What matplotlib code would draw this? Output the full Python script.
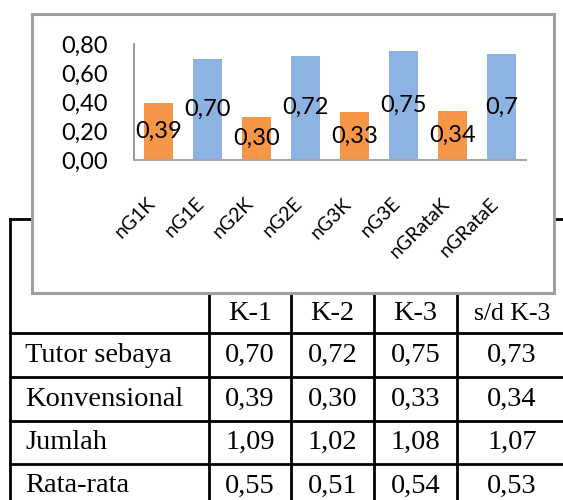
import matplotlib
matplotlib.use("Agg")
import matplotlib.pyplot as plt
from matplotlib.patches import Rectangle

# bar chart data
categories = ["nG1K", "nG1E", "nG2K", "nG2E", "nG3K", "nG3E", "nGRataK", "nGRataE"]
values = [0.39, 0.70, 0.30, 0.72, 0.33, 0.75, 0.34, 0.73]
bar_labels = ["0,39", "0,70", "0,30", "0,72", "0,33", "0,75", "0,34", "0,7"]
bar_colors = ["#f79646", "#8db3e2"] * 4
yticks = [0.0, 0.2, 0.4, 0.6, 0.8]

# table data
col_headers = ["K-1", "K-2", "K-3", "s/d K-3"]
row_names = ["Tutor sebaya", "Konvensional", "Jumlah", "Rata-rata"]
table_vals = [
    ["0,70", "0,72", "0,75", "0,73"],
    ["0,39", "0,30", "0,33", "0,34"],
    ["1,09", "1,02", "1,08", "1,07"],
    ["0,55", "0,51", "0,54", "0,53"],
]

W, H = 563, 500
fig = plt.figure(figsize=(W / 100, H / 100), dpi=100)

# background axes in pixel coordinates for the table
bg = fig.add_axes([0, 0, 1, 1])
bg.set_xlim(0, W)
bg.set_ylim(H, 0)
bg.axis("off")

col_x = [10, 209, 291, 374, 457, 600]
row_y = [219, 333, 377, 421, 464, 508]
col_cx = [250, 332.5, 415.5, 512]
lw = 2.0
for x in col_x:
    bg.plot([x, x], [row_y[0], row_y[-1]], color="black", lw=lw, zorder=1)
for y in row_y:
    bg.plot([col_x[0], col_x[-1]], [y, y], color="black", lw=lw, zorder=1)

serif = "Liberation Serif"
for j, h in enumerate(col_headers):
    fs = 18.5 if h.startswith("s/d") else 20.5
    bg.text(col_cx[j], 314, h, ha="center", va="center", fontsize=fs, family=serif, zorder=2)
for i, name in enumerate(row_names):
    cy = (row_y[i + 1] + row_y[i + 2]) / 2
    bg.text(25, cy, name, ha="left", va="center", fontsize=20.5, family=serif, zorder=2)
    for j, v in enumerate(table_vals[i]):
        bg.text(col_cx[j], cy, v, ha="center", va="center", fontsize=20.5, family=serif, zorder=2)

# chart box covering the top of the table
bg.add_patch(Rectangle((32, 14), 522, 279, facecolor="white", edgecolor="#a0a0a0",
                       lw=2.2, zorder=5))

# bar chart
ax = fig.add_axes([134 / W, 1 - 160 / H, 392 / W, 116 / H])
ax.set_zorder(10)
ax.patch.set_alpha(0)
x = range(len(categories))
ax.bar(x, values, width=0.59, color=bar_colors, zorder=2)
for xi, v, lab in zip(x, values, bar_labels):
    ax.text(xi, v / 2, lab, ha="center", va="center", fontsize=17, family="Lato", zorder=3)

ax.set_xlim(-0.5, len(categories) - 0.5)
ax.set_ylim(0, 0.8)
ax.set_yticks(yticks)
ax.set_yticklabels([f"{t:.2f}".replace(".", ",") for t in yticks], family="Lato", fontsize=17)
ax.set_xticks(list(x))
ax.set_xticklabels(categories, rotation=45, ha="right", family="Lato", fontsize=14)
ax.tick_params(axis="y", length=0, pad=19)
ax.tick_params(axis="x", length=0, pad=25)
for s in ["top", "right"]:
    ax.spines[s].set_visible(False)
ax.spines["left"].set_color("#868686")
ax.spines["bottom"].set_color("#a6a6a6")
ax.spines["left"].set_linewidth(1.2)
ax.spines["bottom"].set_linewidth(1.5)

fig.savefig("out.png", dpi=100)
